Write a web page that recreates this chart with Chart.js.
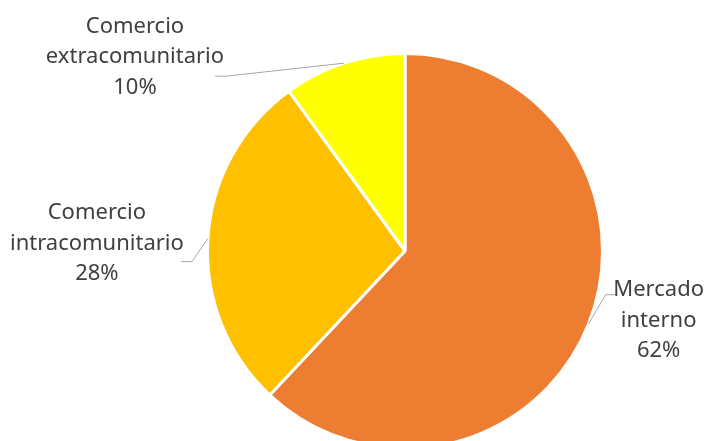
<!DOCTYPE html>
<html>
<head>
<meta charset="utf-8">
<script src="https://cdn.jsdelivr.net/npm/chart.js@4/dist/chart.umd.min.js"></script>
<style>
    html, body { margin: 0; padding: 0; background: #fff; overflow: hidden; }
    #wrap { width: 713px; height: 460px; position: relative; }
</style>
</head>
<body>
<div id="wrap"><canvas id="myChart"></canvas></div>
<script>
// Chart data
const categories = ['Mercado interno', 'Comercio intracomunitario', 'Comercio extracomunitario'];
const labelLines = [['Mercado', 'interno'], ['Comercio', 'intracomunitario'], ['Comercio', 'extracomunitario']];
const shares = [62, 28, 10];
const colors = ['#ED7D31', '#FFC000', '#FFFF00'];

// leader line layout per slice: elbow offset, end offset, text centre offset (from line end)
const leaders = [
    { elbow: [17, -29], end: [27, -29], text: [43, 26] },
    { elbow: [-16, 23], end: [-27, 23], text: [-84, -18] },
    { elbow: [-118, 13], end: [-129, 13], text: [-80, -19] }
];

const outsideLabels = {
    id: 'outsideLabels',
    afterDatasetsDraw(chart) {
        const ctx = chart.ctx;
        const meta = chart.getDatasetMeta(0);
        meta.data.forEach((arc, i) => {
            const mid = (arc.startAngle + arc.endAngle) / 2;
            const x0 = arc.x + Math.cos(mid) * arc.outerRadius;
            const y0 = arc.y + Math.sin(mid) * arc.outerRadius;
            const l = leaders[i];
            const ex = x0 + l.elbow[0], ey = y0 + l.elbow[1];
            const fx = x0 + l.end[0], fy = y0 + l.end[1];

            ctx.save();
            ctx.strokeStyle = '#A6A6A6';
            ctx.lineWidth = 1;
            ctx.beginPath();
            ctx.moveTo(x0, y0);
            ctx.lineTo(ex, ey);
            ctx.lineTo(fx, fy);
            ctx.stroke();

            const lines = labelLines[i].concat([shares[i] + '%']);
            const tx = fx + l.text[0], ty = fy + l.text[1];
            ctx.fillStyle = '#404040';
            ctx.font = '22px "Noto Sans"';
            ctx.textAlign = 'center';
            ctx.textBaseline = 'middle';
            lines.forEach((t, k) => {
                ctx.fillText(t, tx, ty + (k - 1) * 30.5);
            });
            ctx.restore();
        });
    }
};

const ctx = document.getElementById('myChart').getContext('2d');
const myChart = new Chart(ctx, {
    type: 'pie',
    data: {
        labels: categories,
        datasets: [{
            data: shares,
            backgroundColor: colors,
            borderColor: '#FFFFFF',
            borderWidth: 3
        }]
    },
    options: {
        responsive: true,
        maintainAspectRatio: false,
        animation: false,
        layout: { padding: { left: 206, right: 109, top: 52, bottom: 10 } },
        plugins: {
            legend: { display: false },
            tooltip: { enabled: false }
        }
    },
    plugins: [outsideLabels]
});
</script>
</body>
</html>
